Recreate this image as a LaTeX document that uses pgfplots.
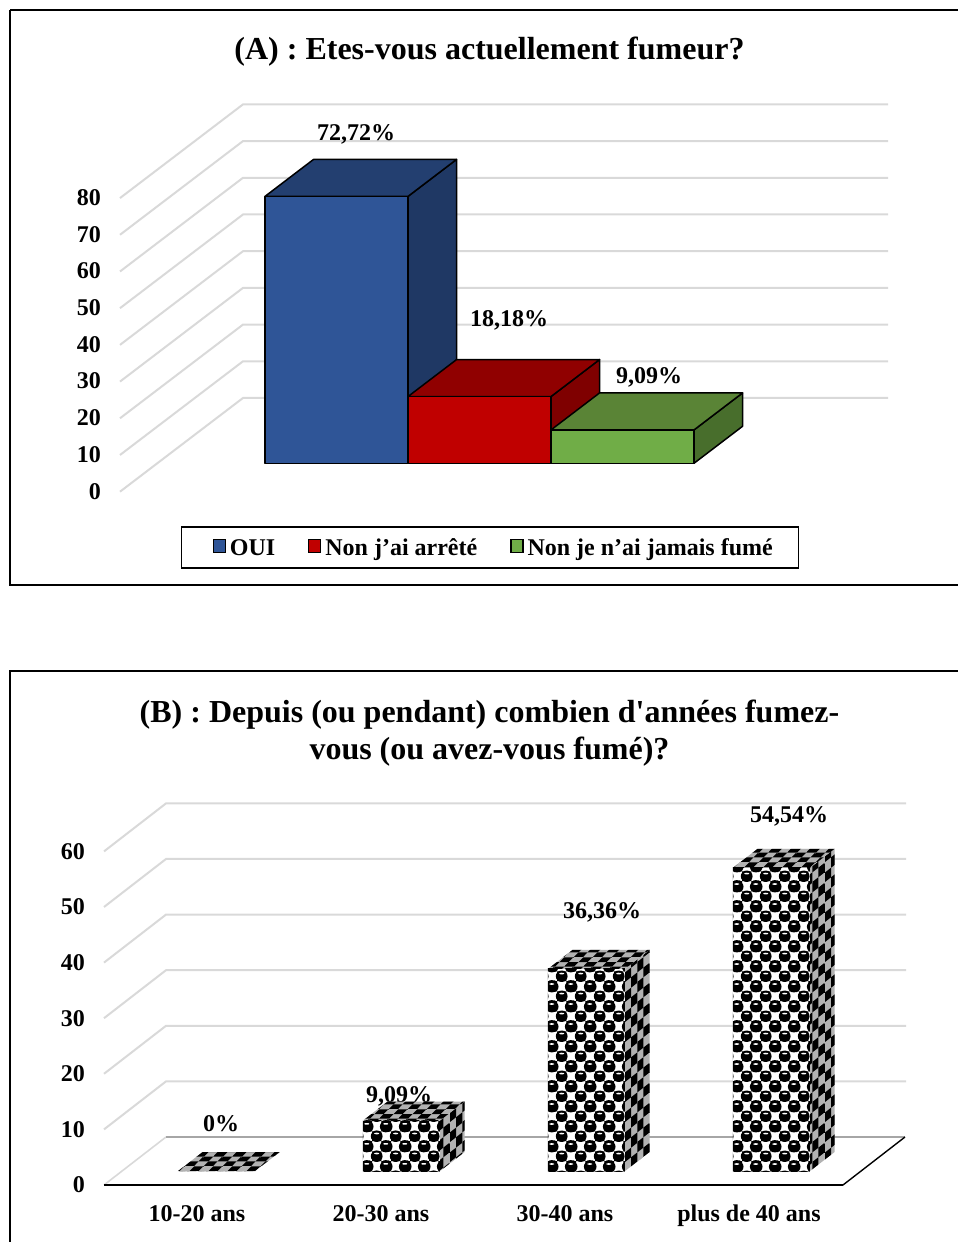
\documentclass[border=0pt]{standalone}
\usepackage{pgfplots}
\pgfplotsset{compat=1.18}
\usepackage{fontspec}
\setmainfont{Liberation Serif}
\newfontfamily\nomap{Liberation Serif}
\usetikzlibrary{patterns}
\definecolor{gridc}{HTML}{D9D9D9}
\definecolor{bluef}{HTML}{2F5597}
\definecolor{bluet}{HTML}{233F70}
\definecolor{blues}{HTML}{1F3864}
\definecolor{redf}{HTML}{C00000}
\definecolor{redt}{HTML}{900000}
\definecolor{reds}{HTML}{7F0000}
\definecolor{greenf}{HTML}{70AD47}
\definecolor{greent}{HTML}{5A8436}
\definecolor{greens}{HTML}{486E2C}
% patterned faces
\newcommand{\ballcell}[2]{%
 \pgfsetfillcolor{black}%
 \pgfpathrectangle{\pgfpoint{\dimexpr#1pt-4.6pt}{\dimexpr#2pt-5pt}}{\pgfpoint{9.25pt}{10pt}}\pgfusepath{fill}%
 \pgfpathcircle{\pgfpoint{#1pt}{#2pt}}{6pt}\pgfusepath{fill}%
 \pgfsetfillcolor{white}%
 \pgfpathellipse{\pgfpoint{#1pt}{\dimexpr#2pt+2.8pt}}{\pgfpoint{2.6pt}{0pt}}{\pgfpoint{0pt}{0.9pt}}\pgfusepath{fill}%
}
\pgfdeclarepatterninherentlycolored{ballF}{\pgfpointorigin}{\pgfpoint{18.5pt}{20pt}}{\pgfpoint{18.5pt}{20pt}}{%
 \ballcell{6.85}{6}%
 \ballcell{16.1}{16}\ballcell{-2.4}{16}\ballcell{16.1}{-4}\ballcell{-2.4}{-4}%
}
\let\pgflineto\pgfpathlineto
% side: sheared checker, four columns
\newcommand{\sidecell}[2]{% column left x, bottom-left y
 \pgfpathmoveto{\pgfpoint{#1pt}{#2pt}}%
 \pgflineto{\pgfpoint{\dimexpr#1pt+6.25pt}{\dimexpr#2pt+5pt}}%
 \pgflineto{\pgfpoint{\dimexpr#1pt+6.25pt}{\dimexpr#2pt+15pt}}%
 \pgflineto{\pgfpoint{#1pt}{\dimexpr#2pt+10pt}}%
 \pgfpathclose\pgfusepath{fill}%
}
\pgfdeclarepatterninherentlycolored{ballS}{\pgfpointorigin}{\pgfpoint{25pt}{20pt}}{\pgfpoint{25pt}{20pt}}{%
 \pgfsetfillcolor{black}%
 \sidecell{0}{0}\sidecell{0}{-20}%
 \sidecell{6.25}{15}\sidecell{6.25}{-5}%
 \sidecell{12.5}{10}\sidecell{12.5}{-10}%
 \sidecell{18.75}{5}\sidecell{18.75}{-15}%
}
% top: sheared checker, four rows
\newcommand{\topcell}[2]{% left x, row bottom y
 \pgfpathmoveto{\pgfpoint{#1pt}{#2pt}}%
 \pgflineto{\pgfpoint{\dimexpr#1pt+9.25pt}{#2pt}}%
 \pgflineto{\pgfpoint{\dimexpr#1pt+13.875pt}{\dimexpr#2pt+4.75pt}}%
 \pgflineto{\pgfpoint{\dimexpr#1pt+4.625pt}{\dimexpr#2pt+4.75pt}}%
 \pgfpathclose\pgfusepath{fill}%
}
\pgfdeclarepatterninherentlycolored{ballT}{\pgfpointorigin}{\pgfpoint{18.5pt}{19pt}}{\pgfpoint{18.5pt}{19pt}}{%
 \pgfsetfillcolor{black}%
 \topcell{0}{0}\topcell{-18.5}{0}%
 \topcell{13.875}{4.75}\topcell{-4.625}{4.75}%
 \topcell{9.25}{9.5}\topcell{-9.25}{9.5}%
 \topcell{4.625}{14.25}\topcell{-13.875}{14.25}%
}
\newcommand{\tfont}{\fontsize{32}{37}\selectfont\bfseries}
\newcommand{\lfont}{\fontsize{24}{28}\selectfont\bfseries}
% solid box: x0 x1 value front top side
\newcommand{\solidbar}[6]{%
 \addplot3[draw=black,line width=1.5pt,fill=#6,line join=round] coordinates {(#2,0.303,0)(#2,0.698,0)(#2,0.698,#3)(#2,0.303,#3)} -- cycle;
 \addplot3[draw=black,line width=1.5pt,fill=#5,line join=round] coordinates {(#1,0.303,#3)(#2,0.303,#3)(#2,0.698,#3)(#1,0.698,#3)} -- cycle;
 \addplot3[draw=black,line width=1.5pt,fill=#4,line join=round] coordinates {(#1,0.303,0)(#2,0.303,0)(#2,0.303,#3)(#1,0.303,#3)} -- cycle;
}
% patterned box: x0 x1 value
\newcommand{\patbar}[3]{%
 \addplot3[draw=none,fill=black!30] coordinates {(#2,0.29,0)(#2,0.686,0)(#2,0.686,#3)(#2,0.29,#3)} -- cycle;
 \addplot3[draw=none,pattern=ballS] coordinates {(#2,0.29,0)(#2,0.686,0)(#2,0.686,#3)(#2,0.29,#3)} -- cycle;
 \addplot3[draw=none,fill=black!30] coordinates {(#1,0.29,#3)(#2,0.29,#3)(#2,0.686,#3)(#1,0.686,#3)} -- cycle;
 \addplot3[draw=none,pattern=ballT] coordinates {(#1,0.29,#3)(#2,0.29,#3)(#2,0.686,#3)(#1,0.686,#3)} -- cycle;
 \addplot3[draw=none,fill=white] coordinates {(#1,0.29,0)(#2,0.29,0)(#2,0.29,#3)(#1,0.29,#3)} -- cycle;
 \addplot3[draw=none,pattern=ballF] coordinates {(#1,0.29,0)(#2,0.29,0)(#2,0.29,#3)(#1,0.29,#3)} -- cycle;
}
\begin{document}
\begin{tikzpicture}[x=1pt,y=1pt]
\path[use as bounding box] (0,0) rectangle (958,1242);
% frames
\draw[line width=1.6pt] (10,1232) -- (958,1232);
\draw[line width=1.6pt] (10,1232) -- (10,657) -- (958,657);
\draw[line width=1.6pt] (10,0) -- (10,571) -- (958,571);
% titles
\node[font=\tfont] at (489.5,1190.5) {(A) : Etes-vous actuellement fumeur?};
\node[font=\tfont,align=center] at (489.5,509) {(B) : Depuis (ou pendant) combien d{\nomap\bfseries'}années fumez-\\vous (ou avez-vous fumé)?};
% chart A
\begin{axis}[
  at={(120pt,750.3pt)},anchor=origin,
  x={(1pt,0pt)},y={(123pt,93.7pt)},z={(0pt,3.67pt)},
  xmin=0,xmax=645,ymin=0,ymax=1,zmin=0,zmax=80,
  xtick=\empty,ytick=\empty,ztick={0,10,...,80},
  axis line style={draw=none},major tick length=0pt,
  tick label style={font=\lfont},
  /pgf/number format/assume math mode=true,
  every z tick label/.append style={anchor=east,inner sep=0pt,xshift=-19pt,yshift=0.5pt},
  clip=false,
  legend style={at={(0.4818,-0.1443)},anchor=center,draw=black,line width=1.2pt,font=\lfont,legend columns=3,
    inner xsep=24pt,inner ysep=9pt,nodes={inner xsep=2pt,inner ysep=1pt,text height=18pt,text depth=3pt},
    /tikz/every even column/.append style={column sep=31pt},
    /tikz/every odd column/.append style={column sep=2pt}},
  legend image code/.code={\draw[#1,draw=black,line width=1.2pt] (0pt,-5pt) rectangle (12pt,8pt);},
]
\foreach \v in {0,10,...,80}{
 \edef\tmp{\noexpand\addplot3[gridc,line width=2pt,forget plot] coordinates {(0,0,\v)(0,1,\v)(645,1,\v)};}\tmp
}
\addlegendimage{legend image code/.code={\path[draw=none] (-8pt,0pt) -- (0pt,0pt);\draw[fill=bluef,draw=black,line width=1.2pt] (0pt,-5pt) rectangle (12pt,8pt);}}\addlegendentry{OUI}
\addlegendimage{fill=redf}\addlegendentry{Non j’ai arrêté}
\addlegendimage{fill=greenf}\addlegendentry{Non je n’ai jamais fumé}
\pgfplotsset{every axis plot/.append style={forget plot}}
\solidbar{107.7}{250.7}{72.72}{bluef}{bluet}{blues}
\solidbar{250.7}{393.7}{18.18}{redf}{redt}{reds}
\solidbar{393.7}{536.7}{9.09}{greenf}{greent}{greens}
\end{axis}
\node[font=\lfont] at (356,1108) {72,72\%};
\node[font=\lfont] at (509,922) {18,18\%};
\node[font=\lfont] at (649,865) {9,09\%};
% chart B
\node[font=\lfont] at (221,118) {0\%};
\node[font=\lfont] at (399,146) {9,09\%};
\begin{axis}[
  at={(104pt,57pt)},anchor=origin,
  x={(1pt,0pt)},y={(62pt,48pt)},z={(0pt,5.56pt)},
  xmin=0,xmax=739,ymin=0,ymax=1,zmin=0,zmax=60,
  xtick={93,277,461,645},xticklabels={10-20 ans,20-30 ans,30-40 ans,plus de 40 ans},
  ytick=\empty,ztick={0,10,...,60},
  axis line style={draw=none},major tick length=0pt,
  tick label style={font=\lfont},
  /pgf/number format/assume math mode=true,
  every z tick label/.append style={anchor=east,inner sep=0pt,xshift=-19pt},
  every x tick label/.append style={anchor=base,inner sep=0pt,yshift=-36pt},
  clip=false,
]
\foreach \v in {10,20,...,60}{
 \edef\tmp{\noexpand\addplot3[gridc,line width=2pt] coordinates {(0,0,\v)(0,1,\v)(740,1,\v)};}\tmp
}
\addplot3[gridc,line width=1.6pt] coordinates {(0,0,0)(0,1,0)};
\addplot3[black!35,line width=2.5pt] coordinates {(0,1,0)(739,1,0)};
\addplot3[black,line width=1.4pt] coordinates {(739,1,0)(739,0,0)};
\addplot3[black,line width=2.2pt] coordinates {(739,0,0)(0,0,0)};
\patbar{56}{133}{0}
\patbar{241}{318}{9.09}
\patbar{426}{503}{36.36}
\patbar{611}{688}{54.54}
\end{axis}
\node[font=\lfont] at (602,330) {36,36\%};
\node[font=\lfont] at (789,426) {54,54\%};
\end{tikzpicture}
\end{document}
